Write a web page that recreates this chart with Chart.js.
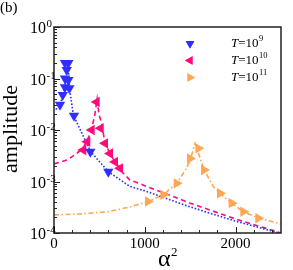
<!DOCTYPE html>
<html><head><meta charset="utf-8">
<script src="https://cdn.jsdelivr.net/npm/chart.js@4/dist/chart.umd.min.js"></script>
<style>html,body{margin:0;padding:0;background:#fff;overflow:hidden}</style>
</head><body>
<canvas id="c" width="293" height="270"></canvas>
<script>
// ---- data ----
const seriesNames = ['T=10^9', 'T=10^10', 'T=10^11'];
const legendMain = ['=10', '=10', '=10'];
const legendSup = ['9', '10', '11'];

const blueMarkX = [66, 96, 121, 169, 121, 158, 140, 121, 158, 220, 400, 598];
const blueMarkY = [0.031, 0.048, 0.068, 0.065, 0.10, 0.093, 0.146, 0.20, 0.20, 0.019, 0.0038, 0.00155];
const pinkMarkX = [470, 415, 514, 367, 562, 323, 617, 672, 727];
const pinkMarkY = [0.035, 0.0100, 0.0108, 0.0059, 0.0055, 0.0041, 0.0035, 0.0024, 0.0018];
const orangeMarkX = [1035, 1204, 1351, 1498, 1590, 1652, 1828, 1957, 2085, 2250];
const orangeMarkY = [4.1e-4, 5.5e-4, 9.2e-4, 2.8e-3, 4.4e-3, 1.67e-3, 5.9e-4, 3.8e-4, 2.6e-4, 1.93e-4];

const blueCurveX = [20, 66, 100, 125, 145, 155, 165, 176, 213, 300, 404, 598, 837, 1000, 1500, 2000, 2480];
const blueCurveY = [0.025, 0.031, 0.048, 0.08, 0.15, 0.21, 0.1, 0.055, 0.0196, 0.0092, 0.0038, 0.00155, 8.0e-4, 6.6e-4, 3.2e-4, 1.7e-4, 1.0e-4];
const pinkCurveX = [0, 140, 230, 290, 330, 370, 415, 450, 475, 495, 525, 562, 617, 672, 727, 763, 837, 1000, 1500, 2000, 2450, 2500];
const pinkCurveY = [0.0022, 0.0026, 0.0033, 0.0040, 0.0048, 0.0065, 0.0105, 0.02, 0.04, 0.02, 0.0135, 0.0055, 0.0035, 0.0024, 0.0018, 0.00145, 0.00107, 8.3e-4, 3.8e-4, 1.87e-4, 1.07e-4, 1.0e-4];
const orangeCurveX = [0, 300, 600, 837, 1035, 1204, 1351, 1450, 1500, 1553, 1600, 1652, 1754, 1828, 1957, 2085, 2250, 2500];
const orangeCurveY = [2.25e-4, 2.35e-4, 2.6e-4, 3.2e-4, 4.1e-4, 5.5e-4, 9.2e-4, 1.7e-3, 2.6e-3, 5.5e-3, 3.2e-3, 1.7e-3, 8.0e-4, 5.9e-4, 3.8e-4, 2.6e-4, 1.95e-4, 1.5e-4];

const xTicks = [0, 1000, 2000];
const xMinorStep = 200;
const yExponents = [-4, -3, -2, -1, 0];

// ---- styles ----
const BLUE = '#2f2fff', PINK = '#ff0a7c', ORANGE = '#ffa654';
const SERIF = '"Liberation Serif", "DejaVu Serif", serif';

const mk = (xs, ys) => xs.map((x, i) => ({x: x, y: ys[i]}));

const curve = (xs, ys, color, dash) => ({
  data: mk(xs, ys), showLine: true, borderColor: color, borderWidth: 1.6,
  borderDash: dash, pointRadius: 0, order: 2, tension: 0, borderCapStyle: 'butt'
});
const marks = (xs, ys, color, rot) => ({
  data: mk(xs, ys), showLine: false, pointStyle: 'triangle', pointRotation: rot,
  pointRadius: 6, pointBackgroundColor: color, backgroundColor: color,
  pointBorderWidth: 0, borderWidth: 0, order: 0
});

const decor = {
  id: 'decor',
  beforeDraw(chart) {
    const c = chart.ctx;
    c.save(); c.fillStyle = '#fff'; c.fillRect(0, 0, chart.width, chart.height); c.restore();
  },
  afterDraw(chart) {
    const c = chart.ctx, a = chart.chartArea;
    const xs = chart.scales.x, ys = chart.scales.y;
    c.save();
    c.strokeStyle = '#222'; c.lineWidth = 1.5;
    c.strokeRect(a.left, a.top, a.right - a.left, a.bottom - a.top);
    c.lineWidth = 1;
    c.beginPath();
    // x ticks (inside)
    for (let v = xs.min; v <= xs.max + 1e-9; v += xMinorStep) {
      const px = Math.round(xs.getPixelForValue(v)) + 0.5;
      const major = xTicks.includes(v);
      c.moveTo(px, a.bottom); c.lineTo(px, a.bottom - (major ? 6 : 3));
    }
    // y ticks (inside)
    for (let i = 0; i < yExponents.length; i++) {
      const e = yExponents[i];
      const py = Math.round(ys.getPixelForValue(Math.pow(10, e))) + 0.5;
      c.moveTo(a.left, py); c.lineTo(a.left + 6, py);
      if (i < yExponents.length - 1) {
        for (let k = 2; k <= 9; k++) {
          const q = Math.round(ys.getPixelForValue(k * Math.pow(10, e))) + 0.5;
          c.moveTo(a.left, q); c.lineTo(a.left + 3, q);
        }
      }
    }
    c.stroke();

    c.fillStyle = '#000';
    // y tick labels
    c.textBaseline = 'alphabetic'; c.textAlign = 'left';
    for (const e of yExponents) {
      const py = ys.getPixelForValue(Math.pow(10, e));
      c.font = '16px ' + SERIF;
      c.fillText('10', 30, py + 6);
      const w = c.measureText('10').width;
      c.font = '11px ' + SERIF;
      c.fillText(e === 0 ? '0' : '-' + (-e), 30 + w + 0.5, py);
    }
    // x tick labels
    c.textAlign = 'center'; c.font = '15px ' + SERIF;
    for (const v of xTicks) c.fillText(String(v), xs.getPixelForValue(v), 248);
    // x title alpha^2
    c.textAlign = 'left';
    c.font = '24px ' + SERIF;
    const aw = c.measureText('\u03b1').width;
    c.font = '13px ' + SERIF;
    const sw = c.measureText('2').width;
    const cx = (a.left + a.right) / 2 - (aw + sw) / 2;
    c.font = '24px ' + SERIF; c.fillText('\u03b1', cx, 266);
    c.font = '13px ' + SERIF; c.fillText('2', cx + aw + 0.5, 256);
    // y title
    c.save();
    c.translate(17, 129); c.rotate(-Math.PI / 2);
    c.textAlign = 'center'; c.font = '22px ' + SERIF;
    c.fillText('amplitude', 0, 0);
    c.restore();
    // panel label
    c.textAlign = 'left'; c.font = '15px ' + SERIF;
    c.fillText('(b)', 0, 12);

    // legend
    const colors = [BLUE, PINK, ORANGE];
    const rots = [180, 270, 90];
    const rowsY = [43.5, 60.5, 77.5];
    for (let i = 0; i < 3; i++) {
      const ly = rowsY[i];
      c.fillStyle = colors[i];
      Chart.helpers.drawPoint(c, {pointStyle: 'triangle', radius: 5, rotation: rots[i], borderWidth: 0}, 190, ly);
      c.fill();
      c.fillStyle = '#000';
      let tx = 231;
      c.font = 'italic 13px ' + SERIF; c.fillText('T', tx, ly + 3);
      tx += c.measureText('T').width;
      c.font = '13px ' + SERIF; c.fillText(legendMain[i], tx, ly + 3);
      tx += c.measureText(legendMain[i]).width;
      c.font = '8.5px ' + SERIF; c.fillText(legendSup[i], tx + 0.5, ly - 3);
    }
    c.restore();
  }
};

new Chart(document.getElementById('c'), {
  type: 'scatter',
  data: {
    datasets: [
      curve(blueCurveX, blueCurveY, BLUE, [1.6, 1.8]),
      curve(pinkCurveX, pinkCurveY, PINK, [5, 3.5]),
      curve(orangeCurveX, orangeCurveY, ORANGE, [5, 2.5, 1.5, 2.5]),
      Object.assign(marks(blueMarkX, blueMarkY, BLUE, 180), {label: seriesNames[0]}),
      Object.assign(marks(pinkMarkX, pinkMarkY, PINK, 270), {label: seriesNames[1]}),
      Object.assign(marks(orangeMarkX, orangeMarkY, ORANGE, 90), {label: seriesNames[2]})
    ]
  },
  options: {
    responsive: false, animation: false, events: [],
    plugins: {legend: {display: false}, tooltip: {enabled: false}},
    layout: {padding: {left: 54, right: 12, top: 27, bottom: 37}},
    scales: {
      x: {type: 'linear', min: 0, max: 2500, display: false},
      y: {type: 'logarithmic', min: 1e-4, max: 1, display: false}
    }
  },
  plugins: [decor]
});
</script>
</body></html>
